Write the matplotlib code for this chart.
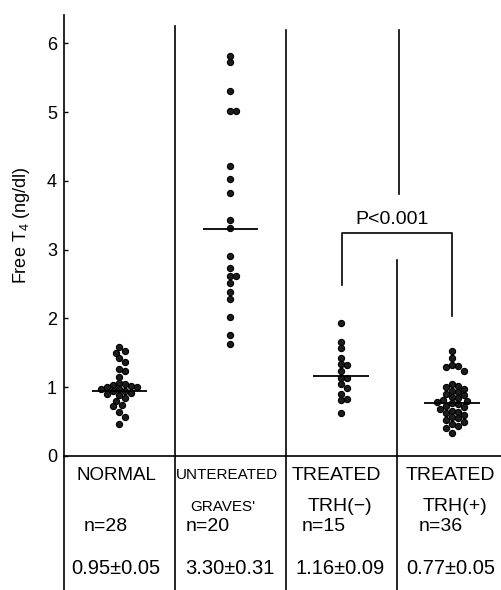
import numpy as np
import matplotlib
matplotlib.use("Agg")
import matplotlib.pyplot as plt

plt.rcParams['font.family'] = ['Liberation Sans', 'DejaVu Sans']
plt.rcParams['mathtext.fontset'] = 'custom'
plt.rcParams['mathtext.rm'] = 'Liberation Sans'

# ---------------- data ----------------
groups = ["NORMAL", "UNTEREATED GRAVES'", "TREATED TRH(−)", "TREATED TRH(+)"]
normal = [1.58, 1.52, 1.50, 1.42, 1.36, 1.27, 1.24, 1.15, 1.06, 1.04, 1.03, 1.02,
          1.01, 1.00, 0.98, 0.97, 0.95, 0.94, 0.92, 0.90, 0.88, 0.84, 0.80, 0.74,
          0.72, 0.64, 0.57, 0.46]
untreated = [5.81, 5.72, 5.30, 5.01, 5.01, 4.22, 4.02, 3.83, 3.43, 3.32, 2.91,
             2.73, 2.62, 2.62, 2.51, 2.39, 2.28, 2.02, 1.76, 1.63]
trh_minus = [1.93, 1.66, 1.57, 1.42, 1.33, 1.32, 1.24, 1.14, 1.13, 1.05, 0.99,
             0.90, 0.83, 0.81, 0.62]
trh_plus = [1.53, 1.43, 1.32, 1.31, 1.30, 1.24, 1.05, 1.02, 1.00, 0.97, 0.95,
            0.93, 0.90, 0.88, 0.86, 0.84, 0.82, 0.80, 0.79, 0.77, 0.75, 0.73,
            0.71, 0.69, 0.66, 0.64, 0.62, 0.60, 0.57, 0.55, 0.52, 0.50, 0.47,
            0.44, 0.40, 0.33]
series = [normal, untreated, trh_minus, trh_plus]
means = [0.95, 3.30, 1.16, 0.77]
sems = [0.05, 0.31, 0.09, 0.05]
ns = [28, 20, 15, 36]
row1 = ["NORMAL", "UNTEREATED", "TREATED", "TREATED"]
row2 = ["", "GRAVES'", "TRH(−)", "TRH(+)"]
yticks = [0, 1, 2, 3, 4, 5, 6]
p_label = "P<0.001"

# ---------------- figure ----------------
W, H = 502, 590
fig = plt.figure(figsize=(W / 100, H / 100), dpi=100)
ax = fig.add_axes([64 / W, 134 / H, 438 / W, 441 / H])
XMAX, YMAX = 3.95, 6.41
ax.set_xlim(0, XMAX)
ax.set_ylim(0, YMAX)
px_x = 438 / XMAX
px_y = 441 / YMAX

centers = [0.5, 1.5, 2.5, 3.5]


def swarm(vals, d=6.0):
    placed = []
    order = np.argsort(vals)[::-1]
    res = np.zeros(len(vals))
    cand_list = [0]
    for j in range(1, 14):
        cand_list += [j * d * 0.5, -j * d * 0.5]
    for i in order:
        yv = vals[i] * px_y
        for c in cand_list:
            ok = True
            for (px, py) in placed:
                if (px - c) ** 2 + (py - yv) ** 2 < (d * 0.95) ** 2:
                    ok = False
                    break
            if ok:
                break
        placed.append((c, yv))
        res[i] = c / px_x
    return res


for cx, vals, m in zip(centers, series, means):
    vals = np.array(vals)
    off = swarm(vals)
    ax.scatter(cx + off, vals, s=20, facecolor='#1c1c1c', edgecolor='black',
               linewidths=0.8, zorder=3, clip_on=False)
    ax.hlines(m, cx - 0.25, cx + 0.25, color='black', lw=1.3, zorder=4)

# spines
for s in ['top', 'right']:
    ax.spines[s].set_visible(False)
ax.spines['left'].set_linewidth(1.2)
ax.spines['bottom'].set_linewidth(1.2)
ax.set_xticks([])
ax.set_yticks(yticks)
ax.set_yticklabels([str(t) for t in yticks], fontsize=13)
ax.tick_params(axis='y', direction='in', length=3, width=1, pad=5)

ybot = -1.97
lk = dict(color='black', lw=1.2, clip_on=False)
ax.plot([0, 0], [ybot, 0], **lk)
ax.plot([1.0, 1.0], [ybot, 6.25], **lk)
ax.plot([2.0, 2.0], [ybot, 6.19], **lk)
ax.plot([3.0, 3.0], [ybot, 2.85], **lk)
ax.plot([3.02, 3.02], [3.81, 6.19], **lk)

# significance bracket
ax.plot([2.51, 2.51, 3.50, 3.50], [2.49, 3.24, 3.24, 2.03], color='black', lw=1.2)
ax.text(2.96, 3.44, p_label, ha='center', va='center', fontsize=14)

# y label
fig.text(22 / W, 1 - 225 / H, 'Free T$_{4}$ (ng/dl)', rotation=90,
         ha='center', va='center', fontsize=13)

# table text
r1x = [0.477, 1.47, 2.46, 3.48]
r1s = [13.5, 11, 14, 14]
for x, t, fs in zip(r1x, row1, r1s):
    ax.text(x, -0.28, t, ha='center', va='center', fontsize=fs, clip_on=False)
r2x = [0, 1.43, 2.49, 3.53]
for x, t in zip(r2x, row2):
    if t:
        fs = 11 if t == "GRAVES'" else 14
        ax.text(x, -0.74, t, ha='center', va='center', fontsize=fs, clip_on=False)
r3x = [0.38, 1.30, 2.34, 3.40]
for x, n in zip(r3x, ns):
    ax.text(x, -1.03, f"n={n}", ha='center', va='center', fontsize=14, clip_on=False)
r4x = [0.47, 1.50, 2.49, 3.49]
for x, m, se in zip(r4x, means, sems):
    ax.text(x, -1.63, f"{m:.2f}±{se:.2f}", ha='center', va='center', fontsize=14.5,
            clip_on=False)

fig.savefig("out.png", dpi=100)
